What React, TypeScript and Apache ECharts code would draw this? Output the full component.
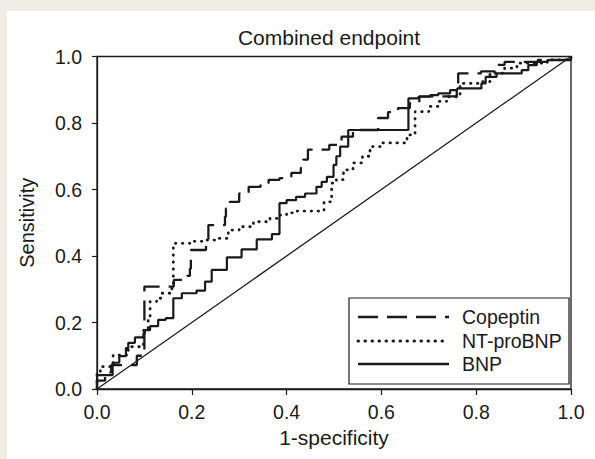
import React, { useEffect, useRef } from "react";
import * as echarts from "echarts";

const chartTitle = "Combined endpoint";
const xAxisName = "1-specificity";
const yAxisName = "Sensitivity";
const tickValues = [0, 0.2, 0.4, 0.6, 0.8, 1.0];
const legendNames = ["Copeptin", "NT-proBNP", "BNP"];

// step corners: [x where the curve rises, new sensitivity]
const copeptin: number[][] = [
  [0, 0], [0, 0.025], [0.017, 0.05], [0.03, 0.072], [0.084, 0.1], [0.1, 0.308],
  [0.162, 0.328], [0.19, 0.34], [0.196, 0.362], [0.198, 0.418], [0.23, 0.448],
  [0.235, 0.493], [0.27, 0.518], [0.272, 0.543], [0.28, 0.563], [0.3, 0.588],
  [0.32, 0.608], [0.345, 0.619], [0.362, 0.629], [0.385, 0.634], [0.41, 0.65],
  [0.43, 0.665], [0.435, 0.69], [0.445, 0.72], [0.49, 0.734], [0.516, 0.759],
  [0.54, 0.779], [0.593, 0.815], [0.614, 0.833], [0.635, 0.845], [0.66, 0.86],
  [0.68, 0.88], [0.759, 0.92], [0.762, 0.949], [0.81, 0.955], [0.84, 0.975],
  [0.86, 0.984], [0.93, 0.99], [1, 1],
];

const ntProBNP: number[][] = [
  [0, 0], [0, 0.052], [0.007, 0.067], [0.034, 0.102], [0.066, 0.127], [0.098, 0.177],
  [0.108, 0.208], [0.112, 0.263], [0.126, 0.273], [0.136, 0.288], [0.158, 0.318],
  [0.161, 0.438], [0.2, 0.444], [0.228, 0.448], [0.25, 0.453], [0.277, 0.478],
  [0.3, 0.488], [0.33, 0.503], [0.365, 0.513], [0.383, 0.523], [0.4, 0.53],
  [0.42, 0.535], [0.479, 0.563], [0.495, 0.619], [0.505, 0.63], [0.52, 0.659],
  [0.54, 0.68], [0.56, 0.7], [0.576, 0.729], [0.6, 0.74], [0.654, 0.764],
  [0.671, 0.834], [0.7, 0.85], [0.72, 0.865], [0.738, 0.879], [0.766, 0.919],
  [0.808, 0.924], [0.829, 0.95], [0.86, 0.965], [0.886, 0.98], [0.95, 0.99], [1, 1],
];

const bnp: number[][] = [
  [0, 0], [0, 0.042], [0.033, 0.079], [0.047, 0.099], [0.061, 0.123], [0.066, 0.139],
  [0.08, 0.155], [0.098, 0.167], [0.101, 0.177], [0.112, 0.189], [0.129, 0.208],
  [0.145, 0.213], [0.161, 0.273], [0.179, 0.288], [0.21, 0.296], [0.228, 0.323],
  [0.242, 0.358], [0.274, 0.396], [0.305, 0.42], [0.337, 0.45], [0.369, 0.466],
  [0.385, 0.559], [0.4, 0.568], [0.42, 0.578], [0.439, 0.588], [0.463, 0.608],
  [0.474, 0.623], [0.485, 0.638], [0.499, 0.674], [0.505, 0.7], [0.513, 0.729],
  [0.53, 0.779], [0.657, 0.874], [0.678, 0.879], [0.703, 0.884], [0.72, 0.889],
  [0.745, 0.899], [0.76, 0.904], [0.811, 0.919], [0.82, 0.939], [0.843, 0.949],
  [0.896, 0.959], [0.91, 0.974], [0.928, 0.984], [0.95, 0.989], [1, 1],
];

const reference: number[][] = [[0, 0], [1, 1]];

const FONT = "'Liberation Sans', Arial, Helvetica, sans-serif";
const INK = "#1a1a1a";

export default function App() {
  const ref = useRef<HTMLDivElement>(null);
  useEffect(() => {
    if (!ref.current) return;
    const chart = echarts.init(ref.current, undefined, { renderer: "svg" });
    const gridL = 97, gridT = 56.5, gridR = 24, gridB = 70;
    const legX = 349, legY = 298, legW = 220, legH = 86;
    const rows = [317, 341, 364];
    const dashStyles = [
      { lineDash: [20, 9], lineWidth: 2.5, lineCap: "butt" },
      { lineDash: [0.5, 6.5], lineWidth: 3, lineCap: "round" },
      { lineDash: null, lineWidth: 2.4, lineCap: "butt" },
    ];
    const legendGraphics: any[] = [
      {
        type: "rect",
        shape: { x: legX, y: legY, width: legW, height: legH },
        style: { fill: "#fff", stroke: INK, lineWidth: 1.2 },
        z: 50,
      },
    ];
    legendNames.forEach((n, i) => {
      legendGraphics.push({
        type: "line",
        shape: { x1: 358, y1: rows[i], x2: 449, y2: rows[i] },
        style: {
          stroke: INK,
          lineWidth: dashStyles[i].lineWidth,
          lineDash: dashStyles[i].lineDash,
          lineCap: dashStyles[i].lineCap,
        },
        z: 51,
      });
      legendGraphics.push({
        type: "text",
        x: 462,
        y: rows[i],
        style: {
          text: n,
          fill: INK,
          font: `19.5px ${FONT}`,
          textVerticalAlign: "middle",
          textAlign: "left",
        },
        z: 51,
      });
    });

    const lineSeries = (name: string, data: number[][], idx: number) => ({
      name,
      type: "line",
      data,
      step: "end",
      showSymbol: false,
      symbol: "none",
      lineStyle: {
        color: INK,
        width: dashStyles[idx].lineWidth - 0.2,
        type: dashStyles[idx].lineDash ? dashStyles[idx].lineDash : "solid",
        cap: dashStyles[idx].lineCap,
      },
      z: 3,
    });

    chart.setOption({
      animation: false,
      backgroundColor: "#efede4",
      textStyle: { fontFamily: FONT },
      title: {
        text: chartTitle,
        left: 324,
        top: 22,
        textAlign: "center",
        textStyle: { fontSize: 21, fontWeight: "normal", color: INK, fontFamily: FONT },
      },
      grid: {
        left: gridL,
        top: gridT,
        right: gridR,
        bottom: gridB,
        show: true,
        backgroundColor: "#fff",
        borderColor: INK,
        borderWidth: 1.3,
      },
      graphic: [
        {
          type: "rect",
          shape: { x: 7, y: 11, width: 600, height: 460 },
          style: { fill: "#ffffff" },
          z: -10,
          silent: true,
        },
        ...legendGraphics,
      ],
      xAxis: {
        type: "value",
        min: 0,
        max: 1,
        interval: 0.2,
        name: xAxisName,
        nameLocation: "middle",
        nameGap: 34,
        nameTextStyle: { fontSize: 21, color: INK, fontFamily: FONT },
        axisLine: { show: true, lineStyle: { color: INK, width: 1.3 } },
        axisTick: { show: true, inside: false, length: 6, lineStyle: { color: INK, width: 1.2 } },
        axisLabel: {
          fontSize: 19.5,
          color: INK,
          margin: 13,
          formatter: (v: number) => (tickValues.includes(Math.round(v * 10) / 10) ? v.toFixed(1) : ""),
        },
        splitLine: { show: false },
      },
      yAxis: {
        type: "value",
        min: 0,
        max: 1,
        interval: 0.2,
        name: yAxisName,
        nameLocation: "middle",
        nameGap: 60,
        nameRotate: 90,
        nameTextStyle: { fontSize: 20, color: INK, fontFamily: FONT },
        axisLine: { show: true, lineStyle: { color: INK, width: 1.3 } },
        axisTick: { show: true, inside: false, length: 5, lineStyle: { color: INK, width: 1.2 } },
        axisLabel: {
          fontSize: 19.5,
          color: INK,
          margin: 15,
          formatter: (v: number) => v.toFixed(1),
        },
        splitLine: { show: false },
      },
      series: [
        {
          name: "reference",
          type: "line",
          data: reference,
          showSymbol: false,
          symbol: "none",
          lineStyle: { color: INK, width: 1.3 },
          z: 2,
        },
        lineSeries(legendNames[0], copeptin, 0),
        lineSeries(legendNames[1], ntProBNP, 1),
        lineSeries(legendNames[2], bnp, 2),
      ],
    });
    return () => chart.dispose();
  }, []);
  return (
    <div
      ref={ref}
      style={{ position: "fixed", left: 0, top: 0, width: 595, height: 459 }}
    />
  );
}
